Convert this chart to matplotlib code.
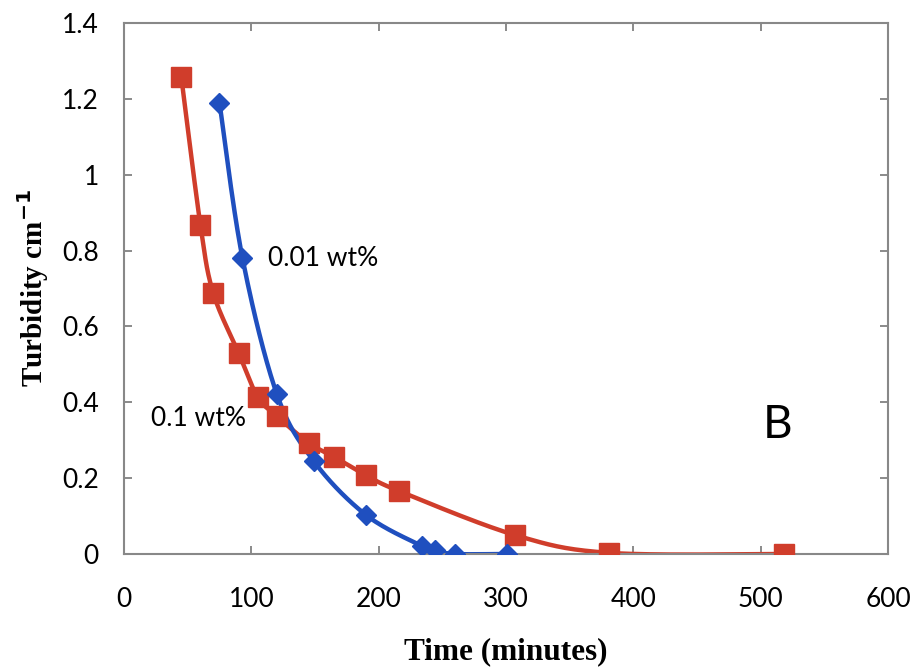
import numpy as np
import matplotlib
matplotlib.use("Agg")
import matplotlib.pyplot as plt

# data
time_01 = [45, 60, 70, 90, 105, 120, 145, 165, 190, 216, 307, 381, 518]
turb_01 = [1.258, 0.868, 0.689, 0.530, 0.414, 0.364, 0.293, 0.256, 0.208, 0.166, 0.050, 0.003, 0.0]

time_001 = [75, 93, 120, 149, 190, 234, 244, 260, 301]
turb_001 = [1.19, 0.781, 0.422, 0.245, 0.103, 0.021, 0.010, 0.0, 0.0]

x_ticks = [0, 100, 200, 300, 400, 500, 600]
y_ticks = [0, 0.2, 0.4, 0.6, 0.8, 1, 1.2, 1.4]
y_ticklabels = ["0", "0.2", "0.4", "0.6", "0.8", "1", "1.2", "1.4"]

RED = "#d03d2b"
BLUE = "#1f4fbf"


def smooth(xs, ys, n=30):
    # Excel-style smoothed line: cubic bezier with catmull-rom control points
    p = np.column_stack([xs, ys]).astype(float)
    p = np.vstack([p[0], p, p[-1]])
    out = []
    for i in range(1, len(p) - 2):
        p0, p1, p2, p3 = p[i - 1], p[i], p[i + 1], p[i + 2]
        c1 = p1 + (p2 - p0) / 6
        c2 = p2 - (p3 - p1) / 6
        t = np.linspace(0, 1, n)[:, None]
        seg = ((1 - t) ** 3) * p1 + 3 * ((1 - t) ** 2) * t * c1 + 3 * (1 - t) * t ** 2 * c2 + t ** 3 * p2
        out.append(seg)
    seg = np.vstack(out)
    return seg[:, 0], seg[:, 1]


fig = plt.figure(figsize=(9.15, 6.71), dpi=100)
ax = fig.add_axes([0.1355, 0.1744, 0.835, 0.7913])

sx, sy = smooth(time_01, turb_01)
ax.plot(sx, sy, color=RED, lw=3.2, zorder=2)
ax.plot(time_01, turb_01, ls="none", marker="s", ms=14.5, color=RED, zorder=3)

sx, sy = smooth(time_001, turb_001)
ax.plot(sx, sy, color=BLUE, lw=3.2, zorder=2)
ax.plot(time_001, turb_001, ls="none", marker="D", ms=10.5, color=BLUE, zorder=3)

ax.set_xlim(0, 600)
ax.set_ylim(0, 1.4)
ax.set_xticks(x_ticks)
ax.set_yticks(y_ticks)
ax.set_yticklabels(y_ticklabels)

tick_font = "Lato"
for lab in ax.get_xticklabels() + ax.get_yticklabels():
    lab.set_fontfamily(tick_font)
    lab.set_fontsize(19)

ax.tick_params(direction="in", length=6, width=1.2, color="#777777",
               top=True, right=True)
ax.tick_params(axis="y", pad=18)
ax.tick_params(axis="x", pad=24)
for sp in ax.spines.values():
    sp.set_color("#888888")
    sp.set_linewidth(1.5)

ax.set_xlabel("Time (minutes)", fontfamily="Liberation Serif", fontweight="bold",
              fontsize=22.5, labelpad=18)
ax.set_ylabel("Turbidity cm$^{\\mathbf{-1}}$", fontfamily="Liberation Serif",
              fontweight="bold", fontsize=21, labelpad=8)

ax.text(113, 0.778, "0.01 wt%", fontfamily=tick_font, fontsize=19, va="center", ha="left")
ax.text(21, 0.356, "0.1 wt%", fontfamily=tick_font, fontsize=19, va="center", ha="left")
ax.text(513, 0.34, "B", fontfamily=tick_font, fontsize=33, va="center", ha="center")

fig.savefig("out.png", dpi=100)
